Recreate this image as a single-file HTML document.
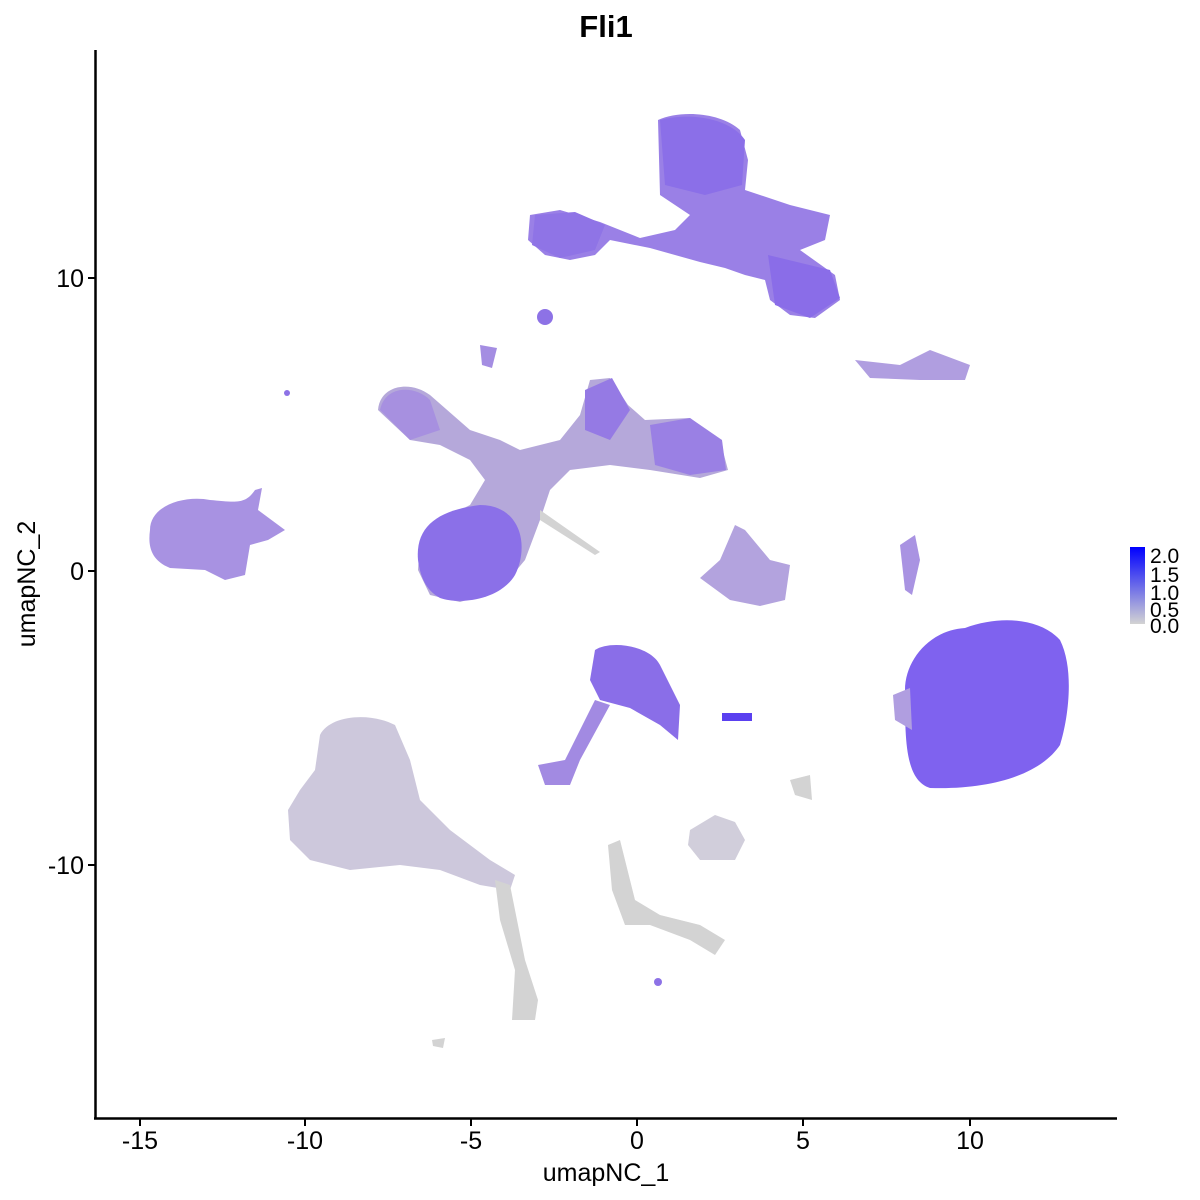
<!DOCTYPE html>
<html><head><style>
body{margin:0;background:#fff;}
svg{display:block;font-family:"Liberation Sans",sans-serif;}
</style></head><body>
<svg width="1200" height="1200" viewBox="0 0 1200 1200">
<rect width="1200" height="1200" fill="#fff"/>
<text x="606" y="37" text-anchor="middle" font-size="31" font-weight="bold">Fli1</text>

<path d="M150,530 C150,505 185,495 210,500 C235,502 245,505 255,490 L262,488 L258,510 L285,530 L268,540 L250,545 L245,575 L225,580 L205,570 L170,568 C150,560 148,545 150,530Z" fill="#a892e2"/>
<path d="M658,120 C680,110 720,112 740,130 L748,160 L745,190 L790,205 L830,215 L825,240 L800,250 L835,275 L840,300 L815,318 L790,315 L770,300 L765,280 L745,275 L725,268 L700,262 L650,248 L610,240 L595,255 L570,260 L545,255 L528,240 L530,215 L560,210 L600,222 L640,238 L675,230 L690,215 L660,195 Z" fill="#9a80e6"/>
<path d="M660,120 C690,112 730,118 745,140 L742,185 L705,195 L665,185 Z" fill="#8b6fe8"/>
<path d="M768,255 L830,270 L840,298 L810,318 L775,305 Z" fill="#8a6de8"/>
<path d="M535,215 L575,212 L605,225 L595,250 L560,258 L532,245Z" fill="#8f74e6"/>
<circle cx="545" cy="317" r="8" fill="#8d72e6"/>
<path d="M378,410 C380,385 410,380 430,395 L470,430 L500,440 L520,450 L560,440 L580,415 L590,380 L610,378 L628,405 L645,420 L690,418 L720,440 L728,470 L700,478 L650,470 L610,465 L570,470 L550,490 L540,520 L525,560 L500,590 L460,602 L430,595 L418,570 L420,540 L440,520 L470,505 L485,480 L470,460 L440,445 L410,440 Z" fill="#b5a8da"/>
<path d="M418,560 C415,525 440,510 480,505 C520,505 530,545 515,575 C500,600 460,605 440,598 C425,590 420,575 418,560Z" fill="#8b70e8"/>
<path d="M380,410 C385,385 415,385 430,400 L440,430 L410,440 Z" fill="#a790e0"/>
<path d="M585,390 L612,378 L630,410 L610,440 L585,430Z" fill="#957ae4"/>
<path d="M650,425 L690,418 L722,440 L726,470 L690,475 L655,465Z" fill="#9a80e4"/>
<path d="M480,345 L497,348 L492,368 L482,365Z" fill="#a48de2"/>
<path d="M540,510 L600,552 L595,555 L540,520Z" fill="#d3d3d3"/>
<path d="M700,578 L720,560 L735,525 L745,530 L770,560 L790,565 L785,600 L760,606 L730,600Z" fill="#b3a3de"/>
<path d="M855,360 L900,365 L930,350 L970,365 L965,380 L920,380 L870,378Z" fill="#b09ee0"/>
<path d="M900,545 L915,535 L920,560 L912,595 L905,590Z" fill="#a993e2"/>
<circle cx="287" cy="393" r="3" fill="#8d72e6"/>
<path d="M905,690 C905,660 930,630 965,628 C1000,615 1040,618 1060,640 C1075,670 1068,720 1060,745 C1040,775 990,790 930,788 C905,780 905,740 905,690Z" fill="#7f62ef"/>
<path d="M893,695 L910,688 L912,730 L895,720Z" fill="#b09ee0"/>
<path d="M595,650 C610,640 650,645 660,665 L680,705 L678,740 L660,725 L630,708 L600,700 L590,680Z" fill="#8a6ee8"/>
<path d="M595,700 L610,705 L580,760 L570,785 L545,785 L538,765 L565,760Z" fill="#a28ae2"/>
<rect x="722" y="713" width="30" height="8" fill="#5a40f0"/>
<path d="M320,735 C330,715 370,712 395,725 L410,760 L420,800 L450,830 L490,860 L515,875 L510,890 L480,885 L440,870 L400,865 L350,870 L310,860 L290,840 L288,810 L300,790 L315,770Z" fill="#cdc8dc"/>
<path d="M495,880 L510,885 L525,960 L538,1000 L535,1020 L512,1020 L515,970 L500,920Z" fill="#d3d3d3"/>
<path d="M690,830 L715,815 L735,822 L745,840 L735,860 L700,860 L688,845Z" fill="#d1cedb"/>
<path d="M608,845 L620,840 L635,900 L660,915 L700,925 L725,940 L715,955 L690,940 L650,925 L625,925 L612,890Z" fill="#d3d3d3"/>
<path d="M790,780 L810,775 L812,800 L795,795Z" fill="#d3d3d3"/>
<path d="M432,1040 L445,1038 L443,1048 L433,1046Z" fill="#d3d3d3"/>
<circle cx="658" cy="982" r="4" fill="#8d72e6"/>

<line x1="95.5" y1="50" x2="95.5" y2="1119" stroke="#000" stroke-width="2.5"/>
<line x1="94" y1="1118.5" x2="1117" y2="1118.5" stroke="#000" stroke-width="2.5"/>
<g stroke="#000" stroke-width="2">
<line x1="140" y1="1119" x2="140" y2="1126"/><line x1="305" y1="1119" x2="305" y2="1126"/>
<line x1="471" y1="1119" x2="471" y2="1126"/><line x1="637" y1="1119" x2="637" y2="1126"/>
<line x1="803" y1="1119" x2="803" y2="1126"/><line x1="970" y1="1119" x2="970" y2="1126"/>
<line x1="88" y1="278" x2="95" y2="278"/><line x1="88" y1="571" x2="95" y2="571"/><line x1="88" y1="865" x2="95" y2="865"/>
</g>
<g font-size="25" text-anchor="middle">
<text x="140" y="1149">-15</text><text x="305" y="1149">-10</text><text x="471" y="1149">-5</text>
<text x="637" y="1149">0</text><text x="803" y="1149">5</text><text x="970" y="1149">10</text>
</g>
<g font-size="25" text-anchor="end">
<text x="84" y="287">10</text><text x="84" y="580">0</text><text x="84" y="874">-10</text>
</g>
<text x="606" y="1181" text-anchor="middle" font-size="25">umapNC_1</text>
<text transform="translate(35,584) rotate(-90)" text-anchor="middle" font-size="25">umapNC_2</text>

<defs><linearGradient id="g" x1="0" y1="1" x2="0" y2="0">
<stop offset="0" stop-color="#d3d3d3"/><stop offset="1" stop-color="#0000ff"/></linearGradient></defs>
<rect x="1130" y="547" width="15" height="77" fill="url(#g)"/>
<g font-size="21">
<text x="1150" y="563">2.0</text><text x="1150" y="582">1.5</text><text x="1150" y="600">1.0</text>
<text x="1150" y="617">0.5</text><text x="1150" y="633">0.0</text>
</g>
</svg>
</body></html>
